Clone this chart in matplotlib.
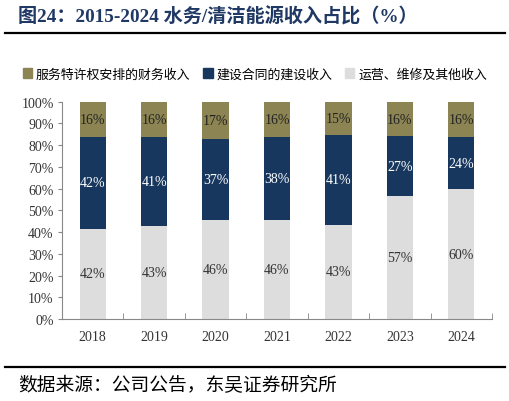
import matplotlib
matplotlib.use('Agg')
import numpy as np
import matplotlib.pyplot as plt
from matplotlib.patches import Patch

# data
years = ['2018', '2019', '2020', '2021', '2022', '2023', '2024']
ops = [41.6, 42.7, 45.7, 45.6, 43.4, 56.6, 59.8]        # 运营、维修及其他收入
build = [42.0, 41.2, 37.0, 38.2, 41.2, 27.4, 23.9]      # 建设合同的建设收入
finance = [16.4, 16.1, 17.3, 16.2, 15.4, 16.0, 16.3]    # 服务特许权安排的财务收入
names = ['服务特许权安排的财务收入', '建设合同的建设收入', '运营、维修及其他收入']

c_gold = '#8c8452'
c_navy = '#17375e'
c_gray = '#dddddd'
serif = ['Liberation Serif', 'Noto Sans CJK SC']
cjk = ['Noto Sans CJK SC', 'DejaVu Sans']

fig = plt.figure(figsize=(5.1, 4.02), dpi=100)
ax = fig.add_axes([62/510, 1 - 320/402, 430/510, (320 - 102.7)/402])

x = np.arange(len(years))
w = 0.43
ops = np.array(ops); build = np.array(build); finance = np.array(finance)
ax.bar(x, ops, w, color=c_gray)
ax.bar(x, build, w, bottom=ops, color=c_navy)
ax.bar(x, finance, w, bottom=ops + build, color=c_gold)

for i in range(len(years)):
    ax.text(x[i], ops[i] / 2, '%.0f%%' % ops[i], ha='center', va='center',
            fontsize=10, color='#333333', family=serif)
    ax.text(x[i], ops[i] + build[i] / 2, '%.0f%%' % build[i], ha='center', va='center',
            fontsize=10, color='white', family=serif)
    ax.text(x[i], ops[i] + build[i] + finance[i] / 2, '%.0f%%' % finance[i], ha='center',
            va='center', fontsize=10, color='#222222', family=serif)

ax.set_xlim(-0.5, len(years) - 0.5)
ax.set_ylim(0, 100)
ax.set_yticks(np.arange(0, 101, 10))
ax.set_yticklabels(['%d%%' % v for v in range(0, 101, 10)], family=serif, fontsize=10, color='#333333')
ax.set_xticks(x)
ax.set_xticklabels(years, family=serif, fontsize=10, color='#333333')
ax.set_xticks(np.arange(-0.5, len(years), 1), minor=True)
ax.tick_params(axis='x', which='major', length=0, pad=8)
ax.tick_params(axis='x', which='minor', direction='in', length=4, color='#888888')
ax.tick_params(axis='y', direction='out', length=3, color='#888888', pad=3)
for s in ['top', 'right']:
    ax.spines[s].set_visible(False)
for s in ['left', 'bottom']:
    ax.spines[s].set_color('#888888')
    ax.spines[s].set_linewidth(0.8)

handles = [Patch(color=c_gold), Patch(color=c_navy), Patch(color=c_gray)]
fig.legend(handles, names, loc='center', bbox_to_anchor=(0.5, 1 - 75/402), ncol=3,
           frameon=False, prop={'family': cjk, 'size': 9.3}, handlelength=0.7, handleheight=0.7,
           handletextpad=0.3, columnspacing=1.0)

fig.text(18/510, 1 - 17/402, '图24：2015-2024 水务/清洁能源收入占比（%）', fontsize=13.8,
         fontweight='bold', color='#1f3864', va='center', family=['Liberation Serif', 'Noto Sans CJK SC'])
fig.add_artist(plt.Line2D([5/510, 505/510], [1 - 34/402, 1 - 34/402], color='black', lw=1.6))
fig.add_artist(plt.Line2D([5/510, 505/510], [1 - 368/402, 1 - 368/402], color='black', lw=1.6))
fig.text(18/510, 1 - 386/402, '数据来源：公司公告，东吴证券研究所', fontsize=13.5, color='black',
         va='center', family=cjk)

fig.savefig('out.png', dpi=100)
